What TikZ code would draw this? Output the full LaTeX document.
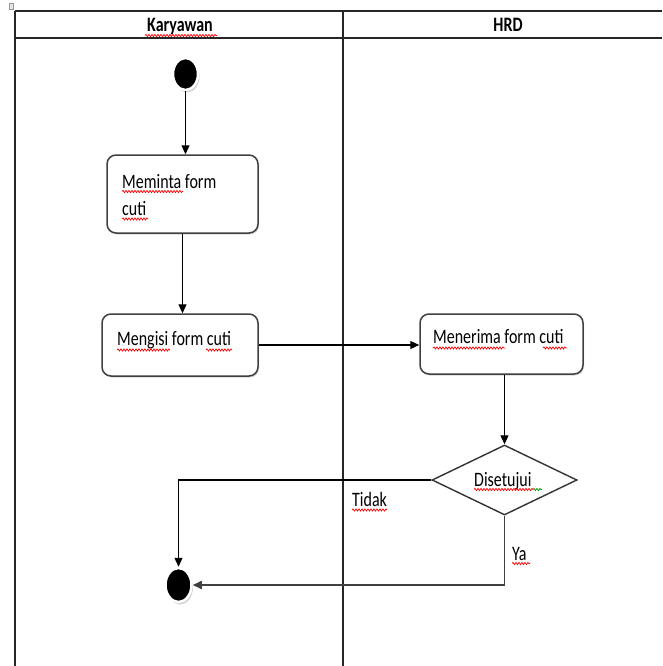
\documentclass[tikz,border=0pt]{standalone}
\usepackage{fontspec}
\setmainfont{Carlito}[FakeStretch=0.78]
\usetikzlibrary{shapes.geometric,arrows.meta,decorations.pathmorphing,shadows}
\begin{document}
\begin{tikzpicture}[x=1pt,y=-1pt,
  lane/.style={line width=1.4pt, draw=black!85},
  act/.style={draw=black!75, line width=1.5pt, rounded corners=9pt, fill=white,
    drop shadow={shadow xshift=1pt,shadow yshift=-1.5pt,fill=black!30}, inner sep=0},
  txt/.style={font=\fontsize{20.5}{24}\selectfont, inner sep=0, anchor=base west},
  hdr/.style={font=\fontsize{20.5}{24}\selectfont\bfseries, inner sep=0, anchor=base},
  flow/.style={line width=1.2pt, draw=black, -{Triangle[length=9pt,width=8pt]}},
  dot/.style={ellipse, fill=black, draw=white, line width=2.5pt, inner sep=0,
    drop shadow={shadow xshift=1.5pt,shadow yshift=-2.5pt,fill=black!35}},
  squig/.style={draw=red, line width=0.7pt, decorate,
    decoration={snake, segment length=3pt, amplitude=1.1pt}}
]
\useasboundingbox (0,0) rectangle (662,666);
\fill[white] (0,0) rectangle (662,666);
\draw[black!40, fill=black!10] (9,3) rectangle (13,9);

% swimlanes
\draw[lane] (15,11) -- (662,11);
\draw[lane] (15,38) -- (662,38);
\draw[lane] (15,11) -- (15,666);
\draw[lane] (343,11) -- (343,666);
\node[hdr] (h1) at (180,32) {Karyawan};
\node[hdr] (h2) at (508,32) {HRD};
\draw[squig] (145,35.5) -- (217,35.5);

% nodes
\node[dot, minimum width=25pt, minimum height=32pt] (start) at (185.5,74) {};
\node[act, minimum width=151pt, minimum height=78pt] (box1) at (182.5,194) {};
\node[act, minimum width=156pt, minimum height=62pt] (box2) at (180,345) {};
\node[act, minimum width=163pt, minimum height=60pt] (box3) at (501.5,344) {};
\node[diamond, draw=black!80, line width=1.4pt, fill=white, inner sep=0,
  minimum width=145pt, minimum height=70pt] (dia) at (504.5,480) {};
\node[dot, minimum width=26pt, minimum height=34pt] (endc) at (178.5,585) {};

% texts
\node[txt] (t1a) at (122,188) {Meminta form};
\node[txt] (t1b) at (122,215) {cuti};
\node[txt] (t2) at (117,345) {Mengisi form cuti};
\node[txt] (t3) at (433,343) {Menerima form cuti};
\node[txt] (t4) at (474,486) {Disetujui};
\node[txt] (l1) at (352,506) {Tidak};
\node[txt] (l2) at (512,560) {Ya};

% spell-check squiggles
\draw[squig] (122,191.5) -- (183,191.5);
\draw[squig] (122,219) -- (148,219);
\draw[squig] (117,350) -- (170,350);
\draw[squig] (206,350) -- (232,350);
\draw[squig] (433,348) -- (505,348);
\draw[squig] (543,348) -- (567,348);
\draw[squig] (474,489.5) -- (533,489.5);
\draw[squig, draw=green!60!black] (533,489.5) -- (542,489.5);
\draw[squig] (352,510) -- (387,510);
\draw[squig] (512,563.5) -- (530,563.5);

% connectors
\draw[flow] (start.south) -- (start.south |- box1.north);
\draw[flow] (box1.south) -- (box1.south |- box2.north);
\draw[flow] (box2.east) -- (box2.east -| box3.west);
\draw[flow] (dia.north |- box3.south) -- (dia.north);
\draw[flow] (dia.west) -| (endc.north);
\draw[flow, draw=black!75, line width=1.6pt] (dia.south) |- (endc.east);
\end{tikzpicture}
\end{document}
